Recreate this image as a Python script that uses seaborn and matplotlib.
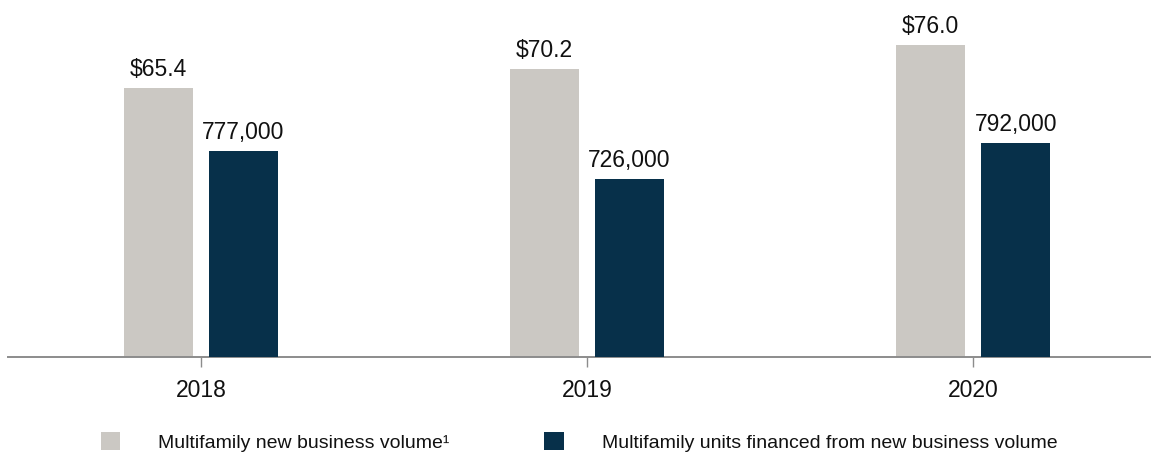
import pandas as pd
import matplotlib.pyplot as plt
import seaborn as sns
from matplotlib.patches import Patch

years = ["2018", "2019", "2020"]
volume = [65.4, 70.2, 76.0]          # $ billions
units = [777000, 726000, 792000]     # units financed
series = ["Multifamily new business volume\u00b9",
          "Multifamily units financed from new business volume"]

GRAY = "#CBC8C3"
NAVY = "#07304A"

sns.set_style("white")
plt.rcParams["font.family"] = ["Liberation Sans", "DejaVu Sans"]

df = pd.DataFrame({
    "year": years * 2,
    "series": [series[0]] * 3 + [series[1]] * 3,
    "value": volume + units,
})

fig = plt.figure(figsize=(11.58, 4.54), dpi=100)
ax = fig.add_axes([8 / 1158, 97.5 / 454, 1142 / 1158, 356.5 / 454])
ax2 = ax.twinx()

# two y scales, one series per axis; dodge keeps both hue slots
for a, s in ((ax, series[0]), (ax2, series[1])):
    sns.barplot(data=df[df.series == s], x="year", y="value", hue="series",
                hue_order=series, order=years, palette=[GRAY, NAVY], width=0.44,
                gap=0.186, dodge=True, ax=a, legend=False, saturation=1, linewidth=0)

ax.set_ylim(0, 86.95)
ax2.set_ylim(401000, 1053930)
ax.set_xlim(-0.5, 2.458)


def real(containers):
    return [c for c in containers if len(c) and all(b is not None for b in c)]


for c in real(ax.containers):
    ax.bar_label(c, labels=[f"${v:.1f}" for v in volume], padding=5,
                 fontsize=16.5, color="#111111")
for c in real(ax2.containers):
    ax2.bar_label(c, labels=[f"{v:,}" for v in units], padding=5,
                  fontsize=16.5, color="#111111")

for a in (ax, ax2):
    for s in ("left", "right", "top"):
        a.spines[s].set_visible(False)
    a.set_yticks([])
    a.set_ylabel("")
    a.set_xlabel("")
ax2.spines["bottom"].set_visible(False)
ax.spines["bottom"].set_color("#8C8C8C")
ax.spines["bottom"].set_linewidth(1.4)
ax.tick_params(axis="x", length=7, width=1, color="#8C8C8C", labelsize=16.5,
               pad=9, labelcolor="#111111", bottom=True)
ax2.tick_params(axis="x", bottom=False, labelbottom=False)

handles = [Patch(facecolor=GRAY, edgecolor="none"), Patch(facecolor=NAVY, edgecolor="none")]
fig.legend(handles, series, loc="center", bbox_to_anchor=(579 / 1158, 1 - 442 / 454),
           ncol=2, frameon=False, fontsize=14.0, handlelength=1.0, handleheight=1.0,
           handletextpad=1.95, columnspacing=4.9, borderaxespad=0, borderpad=0,
           labelcolor="#111111")

fig.savefig("out.png", dpi=100)
